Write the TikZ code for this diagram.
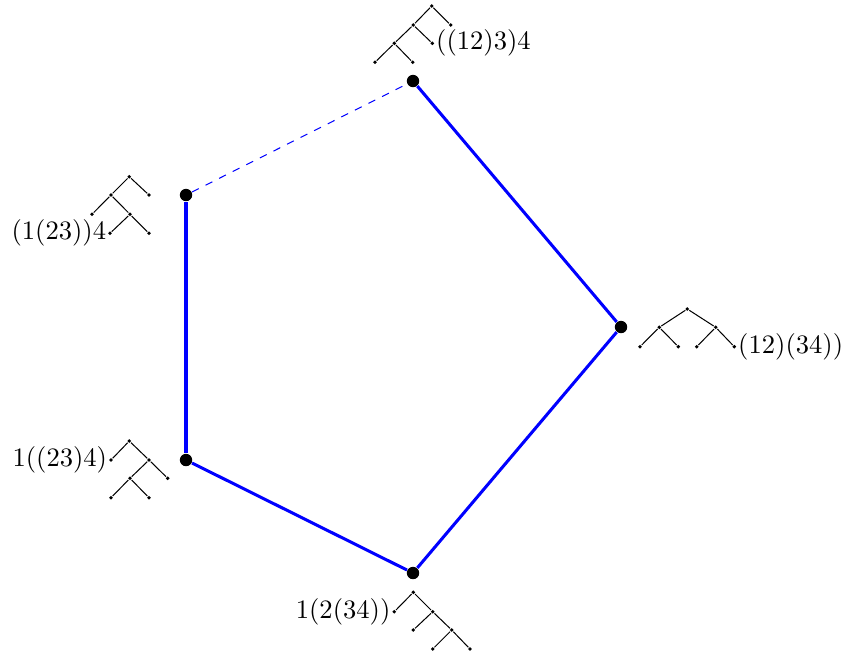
\documentclass[tikz,border=0pt]{standalone}
\begin{document}
\begin{tikzpicture}[x=0.395pt,y=-0.395pt,
  tdot/.style={circle,fill=black,inner sep=0pt,minimum size=1.5pt},
  vdot/.style={circle,fill=black,inner sep=0pt,minimum size=4.9pt},
  tedge/.style={draw=black,line width=0.4pt},
  pedge/.style={draw=blue,line width=1.2pt},
  dedge/.style={draw=blue,line width=0.4pt,dashed},
  lab/.style={inner sep=0.4pt,font=\fontsize{10.5}{13}\selectfont}]
\useasboundingbox (0,0) rectangle (843,651);
% polygon vertices
\node[vdot] (v1) at (413,81) {};
\node[vdot] (v2) at (621,327) {};
\node[vdot] (v3) at (413,573) {};
\node[vdot] (v4) at (186,460) {};
\node[vdot] (v5) at (186,195) {};
\draw[pedge] (v1) -- (v2);
\draw[pedge] (v2) -- (v3);
\draw[pedge] (v3) -- (v4);
\draw[pedge] (v4) -- (v5);
\draw[dedge] (v5) -- (v1);
% Tree A: ((12)3)4
\node[tdot] (A0) at (431.7,6) {};
\node[tdot] (A1) at (413.3,25) {};
\node[tdot] (A2) at (450.7,25) {};
\node[tdot] (A3) at (394.3,43.3) {};
\node[tdot] (A4) at (432.3,43.3) {};
\node[tdot] (A5) at (375,62.3) {};
\node[tdot] (A6) at (412.7,62.3) {};
\draw[tedge] (A0)--(A1) (A0)--(A2) (A1)--(A3) (A1)--(A4) (A3)--(A5) (A3)--(A6);
\node[lab,anchor=west] (LA) at (A4.east) {((12)3)4};
% Tree B: (1(23))4
\node[tdot] (B0) at (129.3,176.7) {};
\node[tdot] (B1) at (111,195) {};
\node[tdot] (B2) at (149,195) {};
\node[tdot] (B3) at (92,214.3) {};
\node[tdot] (B4) at (130,214.3) {};
\node[tdot] (B5) at (110,233.3) {};
\node[tdot] (B6) at (149,233.3) {};
\draw[tedge] (B0)--(B1) (B0)--(B2) (B1)--(B3) (B1)--(B4) (B4)--(B5) (B4)--(B6);
\node[lab,anchor=east] (LB) at (B5.west) {(1(23))4};
% Tree C: (12)(34)
\node[tdot] (C0) at (687.3,309) {};
\node[tdot] (C1) at (659.3,327.3) {};
\node[tdot] (C2) at (715.7,327.3) {};
\node[tdot] (C3) at (640,346.7) {};
\node[tdot] (C4) at (678.3,346.7) {};
\node[tdot] (C5) at (696.7,346.7) {};
\node[tdot] (C6) at (734.3,346.7) {};
\draw[tedge] (C0)--(C1) (C0)--(C2) (C1)--(C3) (C1)--(C4) (C2)--(C5) (C2)--(C6);
\node[lab,anchor=west] (LC) at (C6.east) {(12)(34))};
% Tree D: 1((23)4)
\node[tdot] (D0) at (129.3,441) {};
\node[tdot] (D1) at (111,460) {};
\node[tdot] (D2) at (149,460) {};
\node[tdot] (D3) at (130,478.3) {};
\node[tdot] (D4) at (167.7,478.3) {};
\node[tdot] (D5) at (111,497.7) {};
\node[tdot] (D6) at (149,497.7) {};
\draw[tedge] (D0)--(D1) (D0)--(D2) (D2)--(D3) (D2)--(D4) (D3)--(D5) (D3)--(D6);
\node[lab,anchor=east] (LD) at (D1.west) {1((23)4)};
% Tree E: 1(2(34))
\node[tdot] (E0) at (413.3,592.3) {};
\node[tdot] (E1) at (394.3,611.7) {};
\node[tdot] (E2) at (432.7,611.7) {};
\node[tdot] (E3) at (413.3,630) {};
\node[tdot] (E4) at (451.7,630) {};
\node[tdot] (E5) at (432.7,649) {};
\node[tdot] (E6) at (470,649) {};
\draw[tedge] (E0)--(E1) (E0)--(E2) (E2)--(E3) (E2)--(E4) (E4)--(E5) (E4)--(E6);
\node[lab,anchor=east] (LE) at (E1.west) {1(2(34))};
\end{tikzpicture}
\end{document}
